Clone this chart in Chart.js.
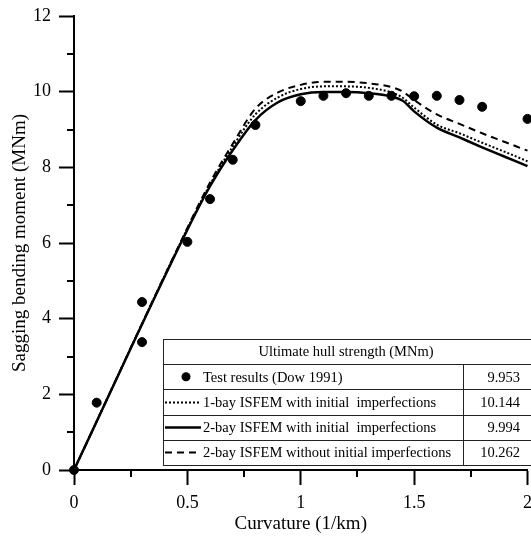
<!DOCTYPE html>
<html>
<head>
<meta charset="utf-8">
<script src="https://cdn.jsdelivr.net/npm/chart.js@4.4.1/dist/chart.umd.min.js"></script>
<style>
html, body { margin: 0; padding: 0; background: #fff; overflow: hidden; }
#wrap { width: 533px; height: 536px; }
</style>
</head>
<body>
<div id="wrap"><canvas id="c"></canvas></div>
<script>
// test points (Dow 1991)
var testX = [0, 0.1, 0.3, 0.3, 0.5, 0.6, 0.7, 0.8, 1.0, 1.1, 1.2, 1.3, 1.4, 1.5, 1.6, 1.7, 1.8, 2.0];
var testY = [0, 1.78, 4.44, 3.38, 6.03, 7.16, 8.2, 9.12, 9.75, 9.89, 9.96, 9.89, 9.89, 9.88, 9.89, 9.78, 9.6, 9.28];

// ISFEM curves
var curveX    = [0, 0.5, 0.6, 0.7, 0.8, 0.9, 1.0, 1.1, 1.2, 1.3, 1.4, 1.45, 1.5, 1.6, 1.7, 1.8, 1.9, 2.0];
var oneBay    = [0, 6.38, 7.55, 8.55, 9.4, 9.85, 10.07, 10.14, 10.14, 10.1, 9.98, 9.84, 9.58, 9.13, 8.9, 8.65, 8.41, 8.16];
var twoBay    = [0, 6.35, 7.5, 8.45, 9.25, 9.72, 9.93, 9.99, 9.99, 9.96, 9.87, 9.76, 9.48, 9.05, 8.79, 8.53, 8.28, 8.03];
var twoBayPerf = [0, 6.4, 7.6, 8.62, 9.55, 9.98, 10.18, 10.26, 10.26, 10.22, 10.12, 10.0, 9.78, 9.4, 9.15, 8.9, 8.67, 8.44];

var seriesNames = ["Test results (Dow 1991)", "1-bay ISFEM with initial  imperfections",
  "2-bay ISFEM with initial  imperfections", "2-bay ISFEM without initial imperfections"];
var strengths = ["9.953", "10.144", "9.994", "10.262"];
var tableTitle = "Ultimate hull strength (MNm)";

var xMinor = [0.25, 0.75, 1.25, 1.75];
var yMinor = [1, 3, 5, 7, 9, 11];

function pairs(xs, ys) {
  return xs.map(function (x, i) { return { x: x, y: ys[i] }; });
}

var serif = "'Liberation Serif', 'Times New Roman', serif";
Chart.defaults.font.family = serif;
Chart.defaults.color = "#000";

var minorTicks = {
  id: "minorTicks",
  afterDraw: function (chart) {
    var ctx = chart.ctx, xs = chart.scales.x, ys = chart.scales.y;
    var a = chart.chartArea;
    ctx.save();
    ctx.strokeStyle = "#000";
    ctx.lineWidth = 2;
    ctx.beginPath();
    xMinor.forEach(function (v) {
      var px = Math.round(xs.getPixelForValue(v));
      ctx.moveTo(px, a.bottom);
      ctx.lineTo(px, a.bottom + 7);
    });
    yMinor.forEach(function (v) {
      var py = Math.round(ys.getPixelForValue(v));
      ctx.moveTo(a.left, py);
      ctx.lineTo(a.left - 7, py);
    });
    ctx.stroke();
    ctx.restore();
  }
};

var strengthTable = {
  id: "strengthTable",
  afterDatasetsDraw: function (chart) {
    var ctx = chart.ctx;
    var left = 163, right = 532, top = 339, bottom = 465, split = 463;
    var rowH = (bottom - top) / 5;
    ctx.save();
    ctx.fillStyle = "#fff";
    ctx.fillRect(left, top, right - left, bottom - top);
    ctx.strokeStyle = "#222";
    ctx.lineWidth = 1;
    ctx.strokeRect(left + 0.5, top + 0.5, right - left, bottom - top);
    ctx.beginPath();
    for (var r = 1; r < 5; r++) {
      var ly = Math.round(top + r * rowH) + 0.5;
      ctx.moveTo(left, ly);
      ctx.lineTo(right, ly);
    }
    ctx.moveTo(split + 0.5, top + rowH);
    ctx.lineTo(split + 0.5, bottom);
    ctx.stroke();

    ctx.fillStyle = "#000";
    ctx.font = "14.5px " + serif;
    ctx.textBaseline = "middle";
    ctx.textAlign = "center";
    ctx.fillText(tableTitle, 346, top + rowH / 2 + 1);

    chart.data.datasets.forEach(function (ds, i) {
      var cy = top + (i + 1.5) * rowH;
      ctx.strokeStyle = "#000";
      if (ds.showLine) {
        ctx.beginPath();
        ctx.lineWidth = ds.borderWidth;
        ctx.setLineDash(ds.borderDash || []);
        ctx.moveTo(left + 2, Math.round(cy) + 0.5);
        ctx.lineTo(left + 38, Math.round(cy) + 0.5);
        ctx.stroke();
        ctx.setLineDash([]);
      } else {
        ctx.beginPath();
        ctx.arc(left + 23, cy, ds.pointRadius, 0, Math.PI * 2);
        ctx.fill();
      }
      ctx.textAlign = "left";
      ctx.fillText(ds.label, left + 40, cy + 1);
      ctx.textAlign = "right";
      ctx.fillText(strengths[i], 520, cy + 1);
    });
    ctx.restore();
  }
};

var plainNum = function (v) { return String(v); };

new Chart(document.getElementById("c"), {
  type: "scatter",
  data: {
    datasets: [
      {
        label: seriesNames[0],
        data: pairs(testX, testY),
        backgroundColor: "#000",
        borderColor: "#000",
        pointRadius: 4.5,
        showLine: false,
        clip: false
      },
      {
        label: seriesNames[1],
        data: pairs(curveX, oneBay),
        showLine: true,
        borderColor: "#000",
        borderWidth: 2,
        borderDash: [2, 2],
        pointRadius: 0,
        cubicInterpolationMode: "monotone",
        clip: false
      },
      {
        label: seriesNames[2],
        data: pairs(curveX, twoBay),
        showLine: true,
        borderColor: "#000",
        borderWidth: 2.5,
        pointRadius: 0,
        cubicInterpolationMode: "monotone",
        clip: false
      },
      {
        label: seriesNames[3],
        data: pairs(curveX, twoBayPerf),
        showLine: true,
        borderColor: "#000",
        borderWidth: 2,
        borderDash: [7, 5],
        pointRadius: 0,
        cubicInterpolationMode: "monotone",
        clip: false
      }
    ]
  },
  options: {
    responsive: true,
    maintainAspectRatio: false,
    animation: false,
    layout: { padding: { left: 0, top: 16, right: 0, bottom: 0 } },
    plugins: {
      legend: { display: false },
      tooltip: { enabled: false }
    },
    scales: {
      x: {
        type: "linear",
        min: 0,
        max: 2,
        ticks: { stepSize: 0.5, font: { family: serif, size: 18, lineHeight: 2 }, padding: 0, color: "#000", callback: plainNum },
        grid: { drawOnChartArea: false, tickLength: 15, tickWidth: 2, color: "#000" },
        border: { color: "#000", width: 2 },
        title: { display: true, text: "Curvature (1/km)", font: { family: serif, size: 19, lineHeight: "7px" }, padding: { top: 0, bottom: 8 }, color: "#000" }
      },
      y: {
        min: 0,
        max: 12,
        ticks: { stepSize: 2, font: { family: serif, size: 18, lineHeight: 0.8 }, padding: 8, color: "#000", callback: plainNum },
        grid: { drawOnChartArea: false, tickLength: 15, tickWidth: 2, color: "#000" },
        border: { color: "#000", width: 2 },
        title: { display: true, text: "Sagging bending moment (MNm)", font: { family: serif, size: 19, lineHeight: "10px" }, padding: { top: 15, bottom: 0 }, color: "#000" }
      }
    }
  },
  plugins: [minorTicks, strengthTable]
});
</script>
</body>
</html>
